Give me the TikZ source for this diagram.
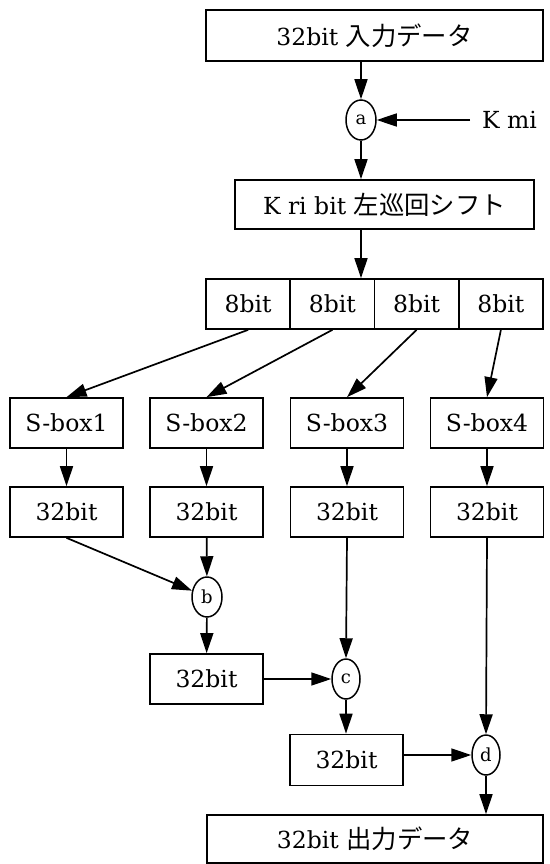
\documentclass[tikz,border=0pt]{standalone}
\usepackage{fontspec}
\setmainfont{DejaVu Serif}
\newfontfamily\cjk{Noto Sans CJK JP}[Scale=1.08]
\usetikzlibrary{shapes.geometric,arrows.meta}
\begin{document}
\begin{tikzpicture}[x=1pt,y=-1pt,
  every node/.style={font=\fontsize{23.5}{28}\selectfont},
  box/.style={draw, line width=1.7pt, rectangle, inner sep=0pt, minimum width=113pt, minimum height=50pt},
  op/.style={draw, line width=1.5pt, ellipse, inner sep=0pt, minimum width=30pt, minimum height=40pt, font=\fontsize{18}{20}\selectfont},
  arr/.style={line width=1.7pt, -{Triangle[length=20pt,width=13pt]}}]
\useasboundingbox (0,0) rectangle (549,864);
% top
\node[box, minimum width=337pt, minimum height=51pt] (in) at (374.5,35.5) {32bit {\cjk 入力データ}};
\node[op] (a) at (361,120) {a};
\node[anchor=west, inner sep=0pt] (kmi) at (482,120) {K mi};
\node[box, minimum width=299pt, minimum height=49pt] (shift) at (384.5,204.5) {K ri bit {\cjk 左巡回シフト}};
% 8bit row
\node[box, minimum width=84.25pt] (e1) at (248.1,304) {8bit};
\node[box, minimum width=84.25pt] (e2) at (332.4,304) {8bit};
\node[box, minimum width=84.25pt] (e3) at (416.6,304) {8bit};
\node[box, minimum width=84.25pt] (e4) at (500.9,304) {8bit};
% s-boxes
\node[box] (s1) at (66.5,423) {S-box1};
\node[box] (s2) at (206.5,423) {S-box2};
\node[box] (s3) at (347,423) {S-box3};
\node[box] (s4) at (487,423) {S-box4};
% 32bit row
\node[box] (t1) at (66.5,512) {32bit};
\node[box] (t2) at (206.5,512) {32bit};
\node[box] (t3) at (347,512) {32bit};
\node[box] (t4) at (487,512) {32bit};
% combining
\node[op] (b) at (207,597) {b};
\node[box] (r3) at (206.5,679) {32bit};
\node[op, minimum width=28pt] (c) at (346,679) {c};
\node[box, minimum height=51pt] (r4) at (346.5,760) {32bit};
\node[op, minimum width=28pt] (d) at (486,755) {d};
\node[box, minimum width=336pt, minimum height=48pt] (out) at (375,839) {32bit {\cjk 出力データ}};
% connectors
\draw[arr] (a |- in.south) -- (a.north);
\draw[arr, shorten <=12pt] (kmi.west) -- (a.east);
\draw[arr] (a.south) -- (a.south |- shift.north);
\draw[arr] (a |- shift.south) -- (a |- e2.north);
\draw[arr] (e1.south) -- (s1.north);
\draw[arr] (e2.south) -- (s2.north);
\draw[arr] (e3.south) -- (s3.north);
\draw[arr] (e4.south) -- (s4.north);
\draw[arr] (s1) -- (t1);
\draw[arr] (s2) -- (t2);
\draw[arr] (s3) -- (t3);
\draw[arr] (s4) -- (t4);
\draw[arr] (t1.south) -- (b);
\draw[arr] (t2) -- (b);
\draw[arr] (b) -- (r3);
\draw[arr] (t3.south) -- (c.north);
\draw[arr] (r3) -- (c);
\draw[arr] (c.south) -- (c.south |- r4.north);
\draw[arr] (t4.south) -- (d.north);
\draw[arr] (d -| r4.east) -- (d.west);
\draw[arr] (d.south) -- (d.south |- out.north);
\end{tikzpicture}
\end{document}
